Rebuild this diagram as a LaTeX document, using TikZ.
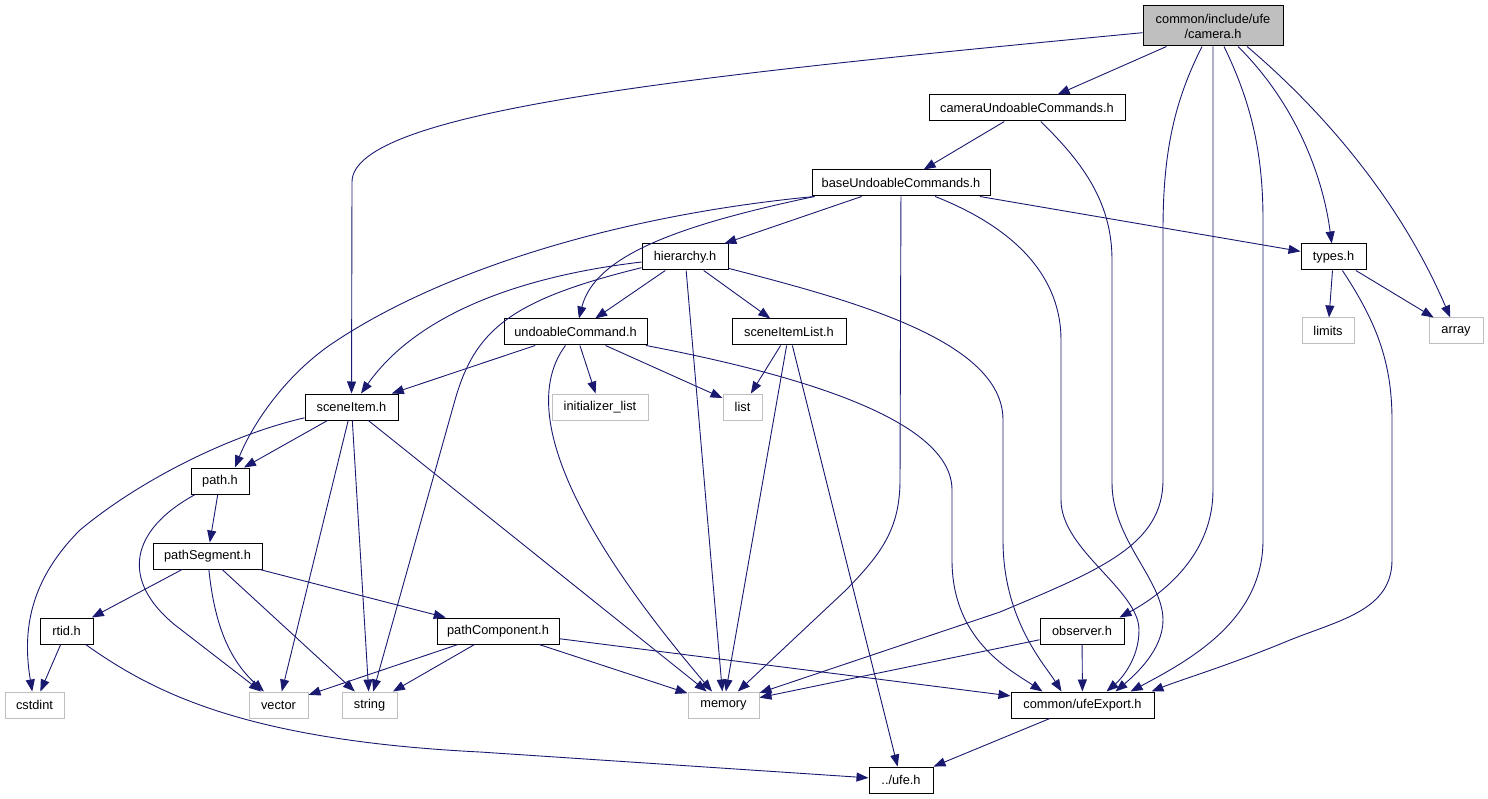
\documentclass[tikz,border=0pt]{standalone}
\usepackage{fontspec}
\setmainfont{Liberation Sans}
\usetikzlibrary{arrows.meta}

\definecolor{edgeblue}{HTML}{191970}
\definecolor{sysgray}{HTML}{BFBFBF}

\tikzset{
  hdr/.style={draw=black, line width=1pt, fill=white, minimum height=26pt,
    inner sep=0pt, font=\fontsize{12.8}{15}\selectfont},
  syshdr/.style={hdr, draw=sysgray},
  dep/.style={draw=edgeblue, line width=0.9pt, -{Triangle[length=12pt,width=9pt]}},
}

\begin{document}
\begin{tikzpicture}[x=1pt, y=-1pt]
  \useasboundingbox (0,0) rectangle (1488,799);

  % headers
  \node[hdr, fill=sysgray, minimum width=140pt, minimum height=40pt, align=center]
    (camera) at (1213,26) {common/include/ufe\\/camera.h};
  \node[hdr, minimum width=196pt] (cuc) at (1027,108) {cameraUndoableCommands.h};
  \node[hdr, minimum width=178pt] (base) at (901,183) {baseUndoableCommands.h};
  \node[hdr, minimum width=86pt] (hierarchy) at (685,257) {hierarchy.h};
  \node[hdr, minimum width=65pt] (types) at (1333.5,257) {types.h};
  \node[hdr, minimum width=143pt] (undoable) at (575.5,332) {undoableCommand.h};
  \node[hdr, minimum width=114pt] (itemlist) at (789,332) {sceneItemList.h};
  \node[hdr, minimum width=93pt] (sceneItem) at (351.5,407) {sceneItem.h};
  \node[hdr, minimum width=58pt] (path) at (220,481) {path.h};
  \node[hdr, minimum width=109pt] (segment) at (207.5,556) {pathSegment.h};
  \node[hdr, minimum width=53pt] (rtid) at (66.5,631) {rtid.h};
  \node[hdr, minimum width=122pt] (component) at (498,631) {pathComponent.h};
  \node[hdr, minimum width=84pt] (observer) at (1082,631) {observer.h};
  \node[hdr, minimum width=143pt] (export) at (1082.5,705) {common/ufeExport.h};
  \node[hdr, minimum width=64pt] (ufe) at (901,780) {../ufe.h};

  % system headers
  \node[syshdr, minimum width=52pt] (limits) at (1328,331) {limits};
  \node[syshdr, minimum width=54pt] (array) at (1456,331) {array};
  \node[syshdr, minimum width=96pt] (initlist) at (600,407) {initializer\_list};
  \node[syshdr, minimum width=39pt] (list) at (742.5,407) {list};
  \node[syshdr, minimum width=59pt] (cstdint) at (34.5,705) {cstdint};
  \node[syshdr, minimum width=59pt] (vector) at (278.5,705) {vector};
  \node[syshdr, minimum width=55pt] (string) at (369.5,705) {string};
  \node[syshdr, minimum width=71pt] (memory) at (723.5,705) {memory};

  % camera.h
  \draw[dep] (camera) .. controls (700,75) and (352,110) .. (352,182) -- (sceneItem);
  \draw[dep] (camera) -- (cuc);
  \draw[dep] ([xshift=-11pt]camera.south) .. controls (1175,100) and (1163,150) .. (1163,230)
    -- (1163,480) .. controls (1163,545) and (1100,570) .. (1000,612) -- (memory);
  \draw[dep] (camera.south) -- (1213,490) .. controls (1213,550) and (1170,590)
    .. ([xshift=-5pt]observer.north east);
  \draw[dep] ([xshift=11pt]camera.south) .. controls (1250,100) and (1263,150) .. (1263,220)
    -- (1263,540) .. controls (1263,620) and (1190,660) .. ([xshift=48pt]export.north);
  \draw[dep] ([xshift=25pt]camera.south) .. controls (1292,100) and (1322,170) .. (types);
  \draw[dep] ([xshift=34pt]camera.south) .. controls (1322,110) and (1400,200) .. (array);

  % cameraUndoableCommands.h
  \draw[dep] (cuc) -- (base);
  \draw[dep] (cuc) .. controls (1080,160) and (1112,200) .. (1112,260) -- (1112,483)
    .. controls (1112,540) and (1163,580) .. (1163,620)
    .. controls (1163,650) and (1135,675) .. ([xshift=33pt]export.north);

  % baseUndoableCommands.h
  \draw[dep] ([xshift=3pt]base.south west) .. controls (620,215) and (440,270) .. (330,345)
    .. controls (280,380) and (250,430) .. ([xshift=15pt]path.north);
  \draw[dep] ([xshift=3pt]base.south west) .. controls (680,225) and (595,255) .. (undoable);
  \draw[dep] (base) -- (hierarchy);
  \draw[dep] (base) -- (900,480) .. controls (900,530) and (880,555) .. (846,590) -- (memory);
  \draw[dep] (base) .. controls (1020,230) and (1061,280) .. (1061,340) -- (1061,500)
    .. controls (1061,550) and (1139,590) .. (1139,630)
    .. controls (1139,660) and (1120,680) .. ([xshift=24pt]export.north);
  \draw[dep] (base) -- (types);

  % hierarchy.h
  \draw[dep] (hierarchy) .. controls (530,275) and (420,310) .. (sceneItem);
  \draw[dep] (hierarchy) .. controls (510,300) and (475,330) .. (455,400) -- (string);
  \draw[dep] (hierarchy) -- (undoable);
  \draw[dep] (hierarchy) -- (itemlist);
  \draw[dep] (hierarchy) -- (memory);
  \draw[dep] (hierarchy) .. controls (850,300) and (1003,340) .. (1003,420) -- (1003,540)
    .. controls (1003,620) and (1045,665) .. ([xshift=-21pt]export.north);

  % types.h
  \draw[dep] (types) -- (limits);
  \draw[dep] (types) -- (array);
  \draw[dep] (types) .. controls (1375,320) and (1392,360) .. (1392,420) -- (1392,560)
    .. controls (1392,610) and (1340,620) .. (1290,640)
    .. controls (1230,665) and (1180,680) .. ([xshift=69pt]export.north);

  % undoableCommand.h
  \draw[dep] (undoable) -- (sceneItem);
  \draw[dep] (undoable) -- (initlist);
  \draw[dep] (undoable) -- (list);
  \draw[dep] (undoable) .. controls (510,420) and (600,560) .. (memory);
  \draw[dep] (undoable) .. controls (800,375) and (952,420) .. (952,490) -- (952,560)
    .. controls (952,640) and (1010,670) .. ([xshift=-40pt]export.north);

  % sceneItemList.h
  \draw[dep] (itemlist) -- (list);
  \draw[dep] (itemlist) -- (memory);
  \draw[dep] (itemlist) -- (ufe);

  % sceneItem.h
  \draw[dep] (sceneItem) .. controls (230,435) and (140,480) .. (80,530)
    .. controls (30,580) and (22,630) .. (cstdint);
  \draw[dep] (sceneItem) -- (path);
  \draw[dep] (sceneItem) -- (vector);
  \draw[dep] (sceneItem) -- (string);
  \draw[dep] (sceneItem) -- (memory);

  % path.h, pathSegment.h, rtid.h
  \draw[dep] (path) -- (segment);
  \draw[dep] (path) .. controls (130,530) and (120,580) .. (175,625) -- (vector);
  \draw[dep] (segment) -- (rtid);
  \draw[dep] (segment) .. controls (215,630) and (232,662) .. (vector);
  \draw[dep] (segment) -- (string);
  \draw[dep] (segment) -- (component);
  \draw[dep] (rtid) -- (cstdint);
  \draw[dep] (rtid) .. controls (150,690) and (240,740) .. (480,752) -- (ufe);

  % pathComponent.h, observer.h, ufeExport.h
  \draw[dep] (component) -- (vector);
  \draw[dep] (component) -- (string);
  \draw[dep] (component) -- (memory);
  \draw[dep] (component) -- (export);
  \draw[dep] (observer) -- (memory);
  \draw[dep] (observer) -- (export);
  \draw[dep] (export) -- (ufe);
\end{tikzpicture}
\end{document}
